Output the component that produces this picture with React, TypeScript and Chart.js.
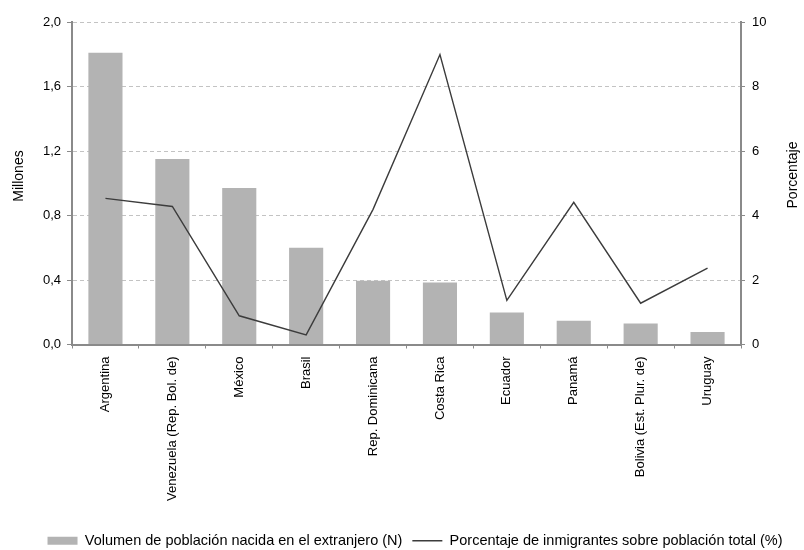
import React, { useEffect, useRef } from "react";
import { Chart, registerables } from "chart.js";

Chart.register(...registerables);

const categories = [
  "Argentina",
  "Venezuela (Rep. Bol. de)",
  "México",
  "Brasil",
  "Rep. Dominicana",
  "Costa Rica",
  "Ecuador",
  "Panamá",
  "Bolivia (Est. Plur. de)",
  "Uruguay",
];
const volumenMillones = [1.81, 1.15, 0.97, 0.6, 0.395, 0.385, 0.198, 0.148, 0.13, 0.078];
const porcentajeInmigrantes = [4.53, 4.28, 0.89, 0.3, 4.19, 8.99, 1.37, 4.41, 1.28, 2.37];
const leftTicks = [0, 0.4, 0.8, 1.2, 1.6, 2.0];
const rightTicks = [0, 2, 4, 6, 8, 10];
const leftTitle = "Millones";
const rightTitle = "Porcentaje";

const FONT = "'Liberation Sans', Arial, sans-serif";
const AXIS = "#8a8a8a";

const legendShift = {
  id: "legendShift",
  afterLayout(chart: any) {
    const l = chart.legend;
    if (!l) return;
    const dx = 13;
    const dy = 8;
    l.left += dx;
    l.right += dx;
    l.top += dy;
    l.bottom += dy;
  },
};

const axisTitles = {
  id: "axisTitles",
  afterDraw(chart: any) {
    const ctx = chart.ctx;
    const draw = (text: string, x: number, y: number) => {
      ctx.save();
      ctx.font = `14px ${FONT}`;
      ctx.fillStyle = "#000";
      ctx.textAlign = "center";
      ctx.textBaseline = "alphabetic";
      ctx.translate(x, y);
      ctx.rotate(-Math.PI / 2);
      ctx.fillText(text, 0, 0);
      ctx.restore();
    };
    draw(leftTitle, 22.5, 176);
    draw(rightTitle, 797, 175);
  },
};

export default function App() {
  const ref = useRef<HTMLCanvasElement | null>(null);
  useEffect(() => {
    if (!ref.current) return;
    const chart = new Chart(ref.current, {
      type: "bar",
      data: {
        labels: categories,
        datasets: [
          {
            type: "line",
            label: "Porcentaje de inmigrantes sobre población total (%)",
            data: porcentajeInmigrantes,
            yAxisID: "y1",
            borderColor: "#3c3c3c",
            backgroundColor: "#3c3c3c",
            borderWidth: 1.4,
            pointRadius: 0,
            tension: 0,
            pointStyle: "line",
            order: 0,
          } as any,
          {
            type: "bar",
            label: "Volumen de población nacida en el extranjero (N)",
            data: volumenMillones,
            yAxisID: "y",
            backgroundColor: "#b3b3b3",
            borderWidth: 0,
            barPercentage: 0.51,
            categoryPercentage: 1,
            pointStyle: "rect",
            order: 1,
          } as any,
        ],
      },
      options: {
        responsive: false,
        animation: false,
        layout: { padding: { top: 22, left: 0, right: 0, bottom: 0 } },
        plugins: {
          tooltip: { enabled: false },
          legend: {
            position: "bottom",
            reverse: true,
            labels: {
              usePointStyle: true,
              pointStyleWidth: 30,
              boxHeight: 8,
              padding: 10,
              color: "#000",
              font: { family: FONT, size: 14.5 },
            },
          },
        },
        scales: {
          x: {
            grid: {
              display: true,
              drawOnChartArea: false,
              drawTicks: true,
              tickLength: 4,
              color: AXIS,
              tickColor: AXIS,
            },
            border: { display: true, color: AXIS, width: 2 },
            ticks: {
              minRotation: 90,
              maxRotation: 90,
              autoSkip: false,
              padding: 8,
              color: "#000",
              font: { family: FONT, size: 13 },
            },
            afterFit: (s: any) => {
              s.height = 171;
            },
          },
          y: {
            position: "left",
            min: 0,
            max: 2,
            afterBuildTicks: (s: any) => {
              s.ticks = leftTicks.map((v) => ({ value: v }));
            },
            ticks: {
              padding: 6,
              color: "#000",
              font: { family: FONT, size: 13 },
              callback: (v: any) => Number(v).toFixed(1).replace(".", ","),
            },
            grid: {
              color: "#c3c3c3",
              tickColor: AXIS,
              tickLength: 5,
              tickBorderDash: [],
              lineWidth: 1,
            },
            border: { display: true, color: AXIS, width: 2, dash: [4, 3] },
            title: { display: false },
            afterFit: (s: any) => {
              s.width = 72;
            },
          },
          y1: {
            position: "right",
            min: 0,
            max: 10,
            afterBuildTicks: (s: any) => {
              s.ticks = rightTicks.map((v) => ({ value: v }));
            },
            ticks: {
              padding: 7,
              color: "#000",
              font: { family: FONT, size: 13 },
            },
            grid: {
              drawOnChartArea: false,
              drawTicks: true,
              tickLength: 4,
              color: AXIS,
              tickColor: AXIS,
            },
            border: { display: true, color: AXIS, width: 2 },
            title: { display: false },
            afterFit: (s: any) => {
              s.width = 63;
            },
          },
        },
      } as any,
      plugins: [legendShift, axisTitles],
    });
    return () => chart.destroy();
  }, []);

  return (
    <div style={{ position: "absolute", left: 0, top: 0, width: 804, height: 550, background: "#fff" }}>
      <canvas ref={ref} width={804} height={550} style={{ display: "block" }} />
    </div>
  );
}
